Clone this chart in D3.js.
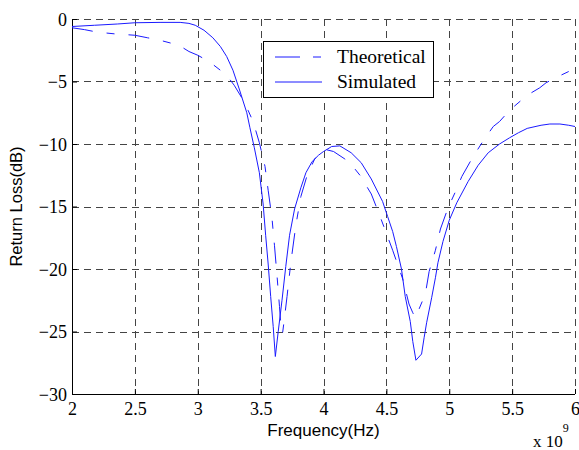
<!DOCTYPE html>
<html>
<head>
<meta charset="utf-8">
<script src="https://cdnjs.cloudflare.com/ajax/libs/d3/7.8.5/d3.min.js"></script>
<style>
  body { margin: 0; background: #fff; }
  .tick text { font-family: "Liberation Serif", "Times New Roman", serif; font-size: 18px; fill: #000; }
</style>
</head>
<body>
<div id="chart"></div>
<script>
// axis ticks (frequency shown in units of 1e9 Hz)
var xTicks = [2, 2.5, 3, 3.5, 4, 4.5, 5, 5.5, 6];
var yTicks = [0, -5, -10, -15, -20, -25, -30];

// Simulated (solid)
var simFreq = [2.0, 2.18, 2.36, 2.5, 2.7, 2.86, 2.93, 2.98, 3.05, 3.12, 3.18, 3.23, 3.28, 3.33, 3.39, 3.415,
  3.45, 3.49, 3.52, 3.54, 3.56, 3.58, 3.6, 3.617, 3.64, 3.67, 3.7, 3.73, 3.77, 3.82, 3.86, 3.91, 3.96,
  4.0, 4.065, 4.13, 4.22, 4.3, 4.38, 4.47, 4.51, 4.55, 4.58, 4.62, 4.65, 4.69, 4.71, 4.735, 4.78, 4.8,
  4.82, 4.86, 4.89, 4.91, 4.95, 5.0, 5.06, 5.15, 5.23, 5.31, 5.4, 5.48, 5.55, 5.62, 5.73, 5.8, 5.88, 5.95, 6.0];
var simLoss = [-0.6, -0.5, -0.4, -0.3, -0.27, -0.27, -0.35, -0.5, -0.9, -1.5, -2.2, -3.0, -4.1, -5.6, -7.5, -8.7,
  -10.3, -12.3, -14.8, -17.3, -19.6, -22.2, -24.6, -27.0, -25.0, -22.5, -19.8, -17.3, -15.2, -13.5, -12.3, -11.4, -10.9,
  -10.6, -10.2, -10.15, -10.7, -11.5, -12.8, -14.6, -15.8, -17.0, -18.2, -20.0, -22.2, -24.2, -25.8, -27.3, -26.8, -25.5,
  -24.3, -22.3, -20.7, -19.5, -17.8, -16.1, -14.7, -13.0, -11.7, -10.7, -10.0, -9.5, -9.1, -8.75, -8.5, -8.4, -8.4, -8.5, -8.6];

// Theoretical (dashed)
var theoFreq = [2.0, 2.1, 2.2, 2.35, 2.5, 2.6, 2.7, 2.85, 2.93, 3.0, 3.09, 3.18, 3.23, 3.29, 3.35, 3.4, 3.44, 3.49,
  3.535, 3.56, 3.59, 3.61, 3.63, 3.65, 3.665, 3.675, 3.69, 3.71, 3.74, 3.78, 3.82, 3.87, 3.93, 3.97, 4.02, 4.08,
  4.17, 4.21, 4.29, 4.38, 4.45, 4.55, 4.63, 4.68, 4.71, 4.73, 4.76, 4.81, 4.84, 4.89, 4.93, 4.98, 5.0, 5.05, 5.1,
  5.19, 5.28, 5.35, 5.4, 5.48, 5.62, 5.72, 5.77, 5.875, 5.95, 6.0];
var theoLoss = [-0.7, -0.85, -1.05, -1.2, -1.3, -1.5, -1.7, -2.1, -2.6, -2.9, -3.4, -4.1, -4.5, -5.3, -6.3, -7.3, -8.2, -9.9,
  -11.8, -13.7, -15.9, -18.1, -20.5, -23.0, -25.1, -25.1, -23.9, -22.2, -19.5, -16.5, -14.2, -12.5, -11.2, -10.7, -10.45, -10.6,
  -11.2, -11.5, -12.5, -14.0, -15.8, -18.5, -20.8, -22.8, -23.5, -23.9, -23.2, -22.0, -20.2, -18.5, -16.8, -15.4, -14.9, -13.8, -12.6,
  -11.0, -9.6, -8.6, -8.2, -7.3, -6.1, -5.5, -5.1, -4.56, -4.2, -4.0];

var seriesNames = ["Theoretical", "Simulated"];

var W = 579, H = 450;
var margin = {left: 72, right: 4, top: 19, bottom: 56};
var iw = W - margin.left - margin.right,
    ih = H - margin.top - margin.bottom;

var svg = d3.select("#chart").append("svg")
  .attr("width", W).attr("height", H)
  .style("font-family", "'Liberation Serif', serif");

var g = svg.append("g").attr("transform", "translate(" + margin.left + "," + margin.top + ")");

var x = d3.scaleLinear().domain([2, 6]).range([0, iw]);
var y = d3.scaleLinear().domain([-30, 0]).range([ih, 0]);

// grid
var grid = g.append("g").attr("class", "grid")
  .attr("stroke", "#444").attr("stroke-width", 1).attr("stroke-dasharray", "7,5");
grid.selectAll(".gx").data(xTicks.slice(1)).enter().append("line")
  .attr("x1", function(d) { return Math.round(x(d)) + 0.5; })
  .attr("x2", function(d) { return Math.round(x(d)) + 0.5; })
  .attr("y1", 0).attr("y2", ih);
grid.selectAll(".gy").data(yTicks.slice(1)).enter().append("line")
  .attr("y1", function(d) { return Math.round(y(d)) + 0.5; })
  .attr("y2", function(d) { return Math.round(y(d)) + 0.5; })
  .attr("x1", 0).attr("x2", iw);
// top edge grid line
grid.append("line").attr("x1", 0).attr("x2", iw).attr("y1", 0.5).attr("y2", 0.5);

// axes (inward ticks)
var xAxis = d3.axisBottom(x).tickValues(xTicks).tickSize(-5).tickPadding(8)
  .tickFormat(function(d) { return d3.format("")(d); });
var yAxis = d3.axisLeft(y).tickValues(yTicks).tickSize(-5).tickPadding(5)
  .tickFormat(function(d) { return d3.format("")(d); });

var gx = g.append("g").attr("transform", "translate(0," + ih + ")").call(xAxis);
var gy = g.append("g").call(yAxis);
gx.select(".domain").attr("stroke", "#000").attr("d", "M0.5,0.5H" + iw);
gy.select(".domain").attr("stroke", "#000").attr("d", "M0.5,0.5V" + (ih + 0.5));
gy.selectAll(".tick text").attr("dy", "0.34em");

// curves
var simData = simFreq.map(function(f, i) { return [f, simLoss[i]]; });
var theoData = theoFreq.map(function(f, i) { return [f, theoLoss[i]]; });
var line = d3.line().x(function(d) { return x(d[0]); }).y(function(d) { return y(d[1]); });

g.append("path").datum(theoData)
  .attr("fill", "none").attr("stroke", "#1a1aff").attr("stroke-width", 1)
  .attr("stroke-dasharray", "21,14,8,14")
  .attr("d", line);
g.append("path").datum(simData)
  .attr("fill", "none").attr("stroke", "#1a1aff").attr("stroke-width", 1)
  .attr("d", line);

// legend
var leg = svg.append("g").attr("transform", "translate(263,41)");
leg.append("rect").attr("x", 0.5).attr("y", 0.5).attr("width", 170).attr("height", 56)
  .attr("fill", "#fff").attr("stroke", "#000").attr("stroke-width", 1);
var legItems = leg.selectAll(".li").data(seriesNames).enter().append("g")
  .attr("transform", function(d, i) { return "translate(0," + (16 + i * 25) + ")"; });
legItems.append("line").attr("x1", 12).attr("x2", 59).attr("y1", 0).attr("y2", 0)
  .attr("stroke", "#1a1aff").attr("stroke-width", 1)
  .attr("stroke-dasharray", function(d, i) { return i === 0 ? "25,13,8,13" : null; });
legItems.append("text").attr("x", 74).attr("y", 6)
  .style("font-size", "19.5px").text(function(d) { return d; });

// axis labels
svg.append("text")
  .attr("x", margin.left + iw / 2).attr("y", 436)
  .attr("text-anchor", "middle")
  .style("font-family", "'Liberation Sans', Arial, sans-serif").style("font-size", "17px")
  .text("Frequency(Hz)");
svg.append("text")
  .attr("transform", "translate(22," + (margin.top + ih / 2) + ") rotate(-90)")
  .attr("text-anchor", "middle")
  .style("font-family", "'Liberation Sans', Arial, sans-serif").style("font-size", "16.5px")
  .text("Return Loss(dB)");

// exponent
var ex = svg.append("text").attr("x", 533).attr("y", 447).style("font-size", "17px");
ex.append("tspan").text("x 10");
ex.append("tspan").attr("dy", -15).style("font-size", "12px").text("9");
</script>
</body>
</html>
